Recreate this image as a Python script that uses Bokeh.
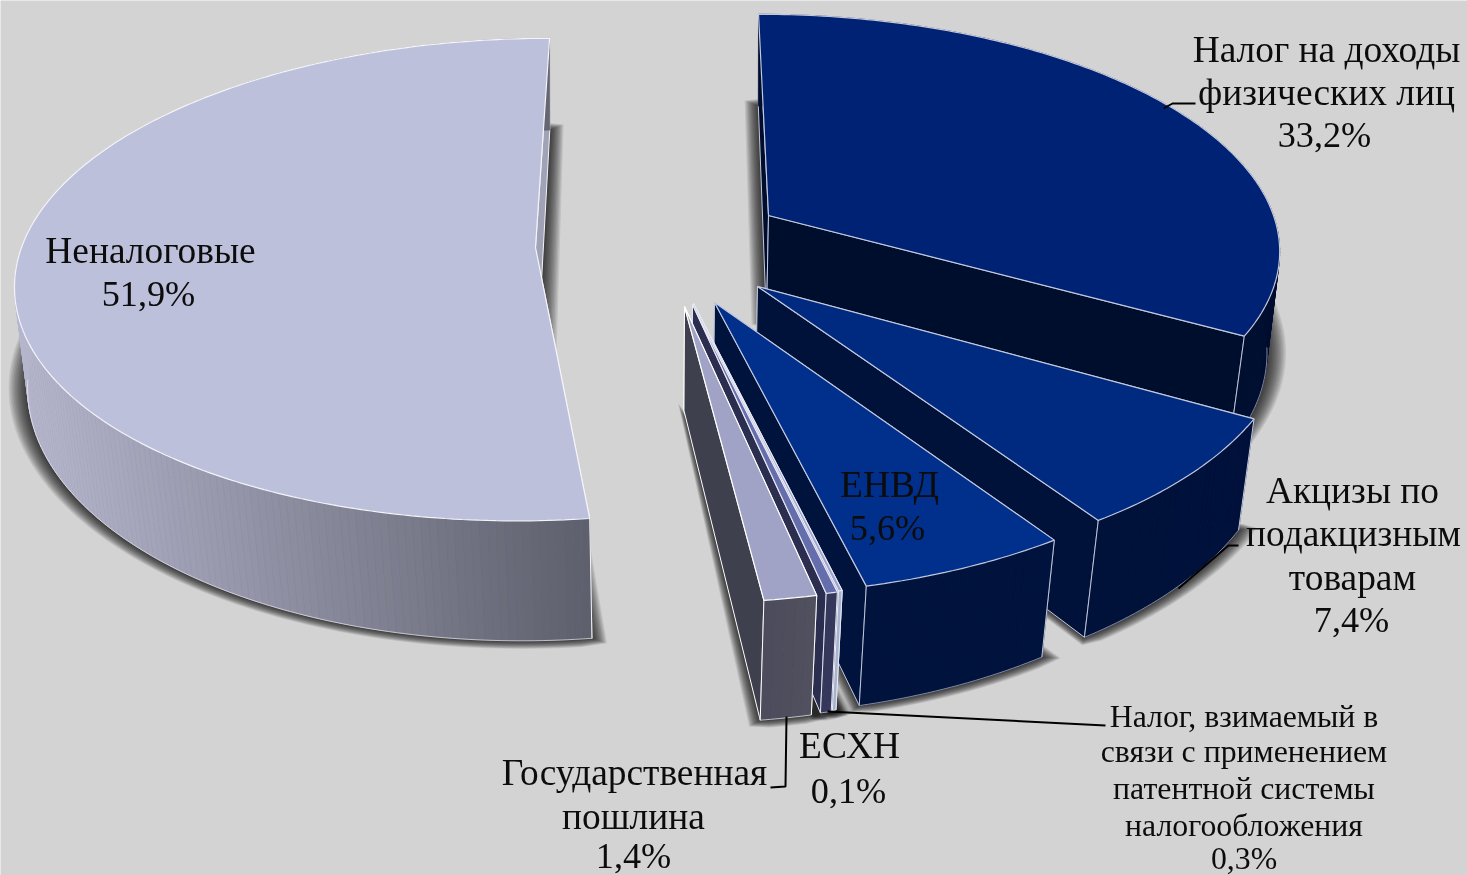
import numpy as np
from bokeh.plotting import figure
from bokeh.embed import file_html
from bokeh.resources import INLINE
from bokeh.core.properties import value
from bokeh.models import Range1d

names = ["Налог на доходы физических лиц", "Акцизы по подакцизным товарам", "ЕНВД", "ЕСХН",
         "Налог, взимаемый в связи с применением патентной системы налогообложения",
         "Государственная пошлина", "Неналоговые"]
shares = [33.2, 7.4, 5.6, 0.1, 0.3, 1.4, 51.9]

top_colors = ["#002275", "#002a80", "#00308c", "#9aa4d0", "#646eac", "#a0a2c6", "#bdc0da"]
edge_colors = ["#c4c8dc", "#c4c8dc", "#c4c8dc", "#e8e8f4", "#e8e8f4", "#ffffff", "#f4f4fa"]
wall_colors = ["#000e2e", "#00113a", "#00133c", "#6a7098", "#2c2e50", "#3f404e", "#a0a2b6"]
rim_left = ["#000e2e", "#00113a", "#00133c", "#a8b4d0", "#36385c", "#4c4c5c", "#b6b7ce"]
rim_right = ["#000f30", "#00113b", "#00133d", "#a8b4d0", "#36385c", "#50505e", "#5e5f6c"]

# layout of each exploded slice: tip of the wedge and its two radii, in picture pixels
tips = [(768, 215), (757, 286), (714, 302), (693, 303), (692, 304), (684, 306), (535, 247)]
radii_x = [505, 526, 533, 533, 533, 532, 514]
radii_y = [228, 250, 254, 257, 257, 257, 237]
lean_x = [683, 655, 655, 655, 655, 655, 655]
KP, VX, DEPTH = 0.133, 655, 104
W, H = 1467, 875


def shrink(v):
    return 0.018 + 0.016 * v


def project(i, theta, low=False):
    ax, ay = tips[i]
    u, v = np.sin(theta), -np.cos(theta)
    s = 1 / (1 - KP * v)
    x = ax + ((ax - lean_x[i]) * KP * v + radii_x[i] * u) * s
    y = ay + radii_y[i] * v * s
    if low:
        x = x - (x - VX) * shrink(v)
        y = y + DEPTH * s
    return x, y


def tip_low(i):
    ax, ay = tips[i]
    return ax - (ax - VX) * shrink(0.0), ay + DEPTH


def outset(xs, ys, d):
    xs, ys = np.asarray(xs, float), np.asarray(ys, float)
    area = np.sum(xs * np.roll(ys, -1) - np.roll(xs, -1) * ys)
    sgn = 1 if area > 0 else -1
    dx1, dy1 = xs - np.roll(xs, 1), ys - np.roll(ys, 1)
    dx2, dy2 = np.roll(xs, -1) - xs, np.roll(ys, -1) - ys
    l1 = np.hypot(dx1, dy1) + 1e-9
    l2 = np.hypot(dx2, dy2) + 1e-9
    nx = sgn * (dy1 / l1 + dy2 / l2)
    ny = -sgn * (dx1 / l1 + dx2 / l2)
    n = np.hypot(nx, ny) + 1e-9
    return xs + d * nx / n, ys + 0.42 * d * ny / n


def mix(c0, c1, t):
    a = [int(c0[k:k + 2], 16) for k in (1, 3, 5)]
    b = [int(c1[k:k + 2], 16) for k in (1, 3, 5)]
    return "#%02x%02x%02x" % tuple(int(round(a[k] + (b[k] - a[k]) * t)) for k in range(3))


p = figure(width=W, height=H, x_range=Range1d(0, W), y_range=Range1d(H, 0),
           output_backend="svg", toolbar_location=None, min_border=0,
           background_fill_color="#d3d3d3", border_fill_color="#d3d3d3",
           outline_line_color=None)
p.axis.visible = False
p.grid.visible = False
p.styles = {"position": "fixed", "left": "0", "top": "0"}

total = sum(shares)
cum = np.concatenate([[0], np.cumsum(shares)]) / total * 2 * np.pi
spans = list(zip(cum[:-1], cum[1:]))
draw_order = [6, 0, 1, 2, 3, 4, 5]

# soft shadows under the slices
for i in draw_order:
    a0, a1 = spans[i]
    th = np.linspace(a0, a1, max(8, int((a1 - a0) * 50)))
    bx, by = project(i, th, low=True)
    tx, ty = tip_low(i)
    ox, oy = np.r_[tx, bx], np.r_[ty, by]
    for d in np.linspace(19, 2, 12):
        sx, sy = outset(ox, oy, d)
        p.patch(sx, sy, fill_color="#000000", fill_alpha=0.09, line_color=None)

for i in draw_order:
    a0, a1 = spans[i]
    th = np.linspace(a0, a1, max(6, int((a1 - a0) * 70)))
    tx, ty = tips[i]
    lx, ly = tip_low(i)
    # straight cut walls
    for t in (a0, a1):
        x, y = project(i, t)
        X, Y = project(i, t, low=True)
        p.patch([tx, x, X, lx], [ty, y, Y, ly], fill_color=wall_colors[i],
                line_color=edge_colors[i], line_width=1)
    # rounded outer wall, back segments first
    xt, yt = project(i, th)
    xb, yb = project(i, th, low=True)
    xlo, xhi = xt.min(), xt.max()
    vmid = -np.cos(0.5 * (th[:-1] + th[1:]))
    for k in np.argsort(vmid):
        f = (0.5 * (xt[k] + xt[k + 1]) - xlo) / max(xhi - xlo, 1)
        c = mix(rim_left[i], rim_right[i], f)
        p.patch([xt[k], xt[k + 1], xb[k + 1], xb[k]], [yt[k], yt[k + 1], yb[k + 1], yb[k]],
                fill_color=c, line_color=c, line_width=0.7)
    front = -np.cos(th) > 0.1
    if front.sum() > 1:
        p.line(xb[front], yb[front], line_color=edge_colors[i], line_width=0.8, line_alpha=0.8)
    for k in (0, -1):
        if -np.cos(th[k]) > 0.1:
            p.line([xt[k], xb[k]], [yt[k], yb[k]], line_color=edge_colors[i], line_width=1)
    # top face
    p.patch(np.r_[tx, xt], np.r_[ty, yt], fill_color=top_colors[i],
            line_color=edge_colors[i], line_width=1.2)

# leader lines
leaders = [([1195, 1172, 1163], [103, 103, 108]),
           ([1178, 1228, 1238], [588, 545, 545]),
           ([786, 785, 770], [716, 786, 787]),
           ([827, 1105], [711, 725])]
for lx, ly in leaders:
    p.line(lx, ly, line_color="#000000", line_width=2)

labels = [
    (1326, 49, "Налог на доходы"), (1326, 92, "физических лиц"),
    (1352, 490, "Акцизы по"), (1353, 533, "подакцизным"), (1352, 577, "товарам"),
    (889, 484, "ЕНВД"),
    (150, 250, "Неналоговые"),
    (849, 745, "ЕСХН"),
    (634, 772, "Государственная"), (633, 816, "пошлина"),
]
percents = [(1324, 134, "33,2%"), (1351, 619, "7,4%"), (887, 527, "5,6%"), (148, 293, "51,9%"),
            (848, 790, "0,1%"), (633, 855, "1,4%")]
small = [(1243.5, 716, "Налог, взимаемый в"), (1243.5, 751, "связи с применением"),
         (1243.5, 788, "патентной системы"), (1243.5, 825, "налогообложения"), (1243.5, 858, "0,3%")]
for rows, size in ((labels, "37.4px"), (percents, "36.2px"), (small, "31.8px")):
    p.text([l[0] for l in rows], [l[1] for l in rows], text=[l[2] for l in rows], text_align="center",
           text_baseline="middle", text_font=value("Liberation Serif"), text_font_size=size, text_color="#0c0c0c")

open("out.html", "w").write(file_html(p, INLINE))
